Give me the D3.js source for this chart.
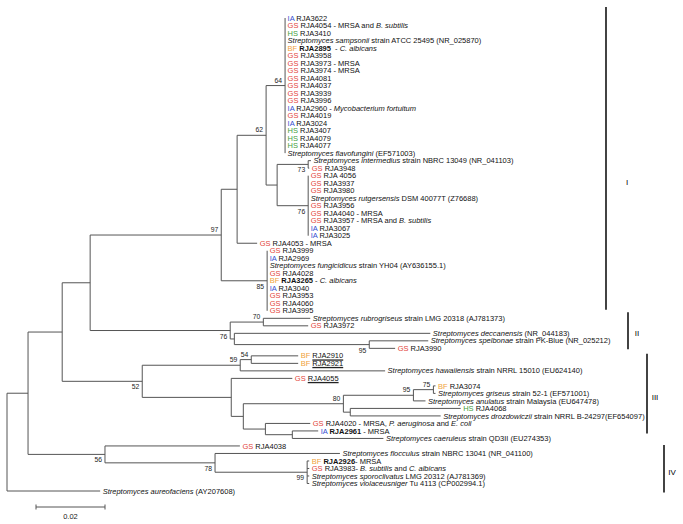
<!DOCTYPE html>
<html><head><meta charset="utf-8">
<script src="https://cdn.jsdelivr.net/npm/d3@7"></script>
<style>body{margin:0;background:#fff}svg{display:block;font-family:"Liberation Sans",Arial,sans-serif}</style>
</head><body><svg id="c" width="683" height="524"></svg>
<script>
// internal nodes: id, parent, branch length, bootstrap support
const internalNodes = [
 ["R",null,0,""],["A","R",0.0061,""],["B","A",0.0099,""],["C","B",0.0081,""],
 ["N97","C",0.0380,"97"],["Nx","N97",0.0046,""],["N62","Nx",0.0084,"62"],["N64","N62",0.0055,"64"],
 ["Ny","N62",0.0032,""],["N73","Ny",0.0090,"73"],["N76b","Ny",0.0090,"76"],["N85","N97",0.0133,"85"],
 ["N76","C",0.0406,"76"],["N70","N76",0.0096,"70"],["Nz","N76",0.0012,""],["N95b","Nz",0.0391,"95"],
 ["N52","B",0.0232,"52"],["N59","N52",0.0284,"59"],["N54","N59",0.0032,"54"],["N231","N52",0.0258,""],
 ["N243","N231",0.0035,""],["N80","N243",0.0290,"80"],["N95","N80",0.0203,"95"],["N75","N95",0.0058,"75"],
 ["Nhd","N80",0.0020,""],["Nlow","N243",0.0064,""],["Nb","Nlow",0.0078,""],
 ["N56","A",0.0223,"56"],["N78","N56",0.0319,"78"],["N99","N78",0.0267,"99"]
];
// support labels drawn below the branch
const supportBelow = ["N73","N76b","N85","N76","N95b","N52","N56","N78","N99"];
// leaves: label, parent, branch length, source tag, activity note (*...* = italic)
const leaves = [
 ["RJA3622","N64",0,"IA",""],
 ["RJA4054","N64",0,"GS"," - MRSA and *B. subtilis*"],
 ["RJA3410","N64",0,"HS",""],
 ["*Streptomyces sampsonii* strain ATCC 25495 (NR_025870)","N64",0,"",""],
 ["RJA2895","N64",0,"BF","  - *C. albicans*"],
 ["RJA3958","N64",0,"GS",""],
 ["RJA3973","N64",0,"GS"," - MRSA"],
 ["RJA3974","N64",0,"GS"," - MRSA"],
 ["RJA4081","N64",0,"GS",""],
 ["RJA4037","N64",0,"GS",""],
 ["RJA3939","N64",0,"GS",""],
 ["RJA3996","N64",0,"GS",""],
 ["RJA2960","N64",0,"IA"," - *Mycobacterium fortuitum*"],
 ["RJA4019","N64",0,"GS",""],
 ["RJA3024","N64",0,"IA",""],
 ["RJA3407","N64",0,"HS",""],
 ["RJA4079","N64",0,"HS",""],
 ["RJA4077","N64",0,"HS",""],
 ["*Streptomyces flavofungini* (EF571003)","N64",0,"",""],
 ["*Streptomyces intermedius* strain NBRC 13049 (NR_041103)","N73",0.0008,"",""],
 ["RJA3948","N73",0.0003,"GS",""],
 ["RJA 4056","N76b",0,"GS",""],
 ["RJA3937","N76b",0,"GS",""],
 ["RJA3980","N76b",0,"GS",""],
 ["*Streptomyces rutgersensis* DSM 40077T (Z76688)","N76b",0,"",""],
 ["RJA3956","N76b",0,"GS",""],
 ["RJA4040","N76b",0,"GS"," - MRSA"],
 ["RJA3957","N76b",0,"GS"," - MRSA and *B. subtilis*"],
 ["RJA3067","N76b",0,"IA",""],
 ["RJA3025","N76b",0,"IA",""],
 ["RJA4053","Nx",0.0058,"GS"," - MRSA"],
 ["RJA3999","N85",0,"GS",""],
 ["RJA2969","N85",0,"IA",""],
 ["*Streptomyces fungicidicus* strain YH04 (AY636155.1)","N85",0,"",""],
 ["RJA4028","N85",0,"GS",""],
 ["RJA3265","N85",0,"BF"," - *C. albicans*"],
 ["RJA3040","N85",0,"IA",""],
 ["RJA3953","N85",0,"GS",""],
 ["RJA4060","N85",0,"GS",""],
 ["RJA3995","N85",0,"GS",""],
 ["*Streptomyces rubrogriseus* strain LMG 20318 (AJ781373)","N70",0.0136,"",""],
 ["RJA3972","N70",0.0130,"GS",""],
 ["*Streptomyces deccanensis* (NR_044183)","Nz",0.0568,"",""],
 ["*Streptomyces spelbonae* strain PK-Blue (NR_025212)","N95b",0.0171,"",""],
 ["RJA3990","N95b",0.0075,"GS",""],
 ["RJA2910","N54",0.0136,"BF",""],
 ["RJA2921","N54",0.0136,"BF",""],
 ["*Streptomyces hawaiiensis* strain NRRL 15010 (EU624140)","N59",0.0420,"",""],
 ["RJA4055","N231",0.0177,"GS",""],
 ["RJA3074","N75",0.0006,"BF",""],
 ["*Streptomyces griseus* strain 52-1 (EF571001)","N75",0.0006,"",""],
 ["*Streptomyces anulatus* strain Malaysia (EU647478)","N95",0.0035,"",""],
 ["RJA4068","Nhd",0.0320,"HS",""],
 ["*Streptomyces drozdowiczii* strain NRRL B-24297(EF654097)","Nhd",0.0262,"",""],
 ["RJA4020","Nlow",0.0130,"GS"," - MRSA, *P. aeruginosa* and *E. coli*"],
 ["RJA2961","Nb",0.0075,"IA"," - MRSA"],
 ["*Streptomyces caeruleus* strain QD3II (EU274353)","Nb",0.0264,"",""],
 ["RJA4038","N56",0.0391,"GS",""],
 ["*Streptomyces flocculus* strain NBRC 13041 (NR_041100)","N78",0.0362,"",""],
 ["RJA2926","N99",0.0006,"BF","- MRSA"],
 ["RJA3983","N99",0.0006,"GS","- *B. subtilis* and *C. albicans*"],
 ["*Streptomyces sporoclivatus* LMG 20312 (AJ781369)","N99",0.0006,"",""],
 ["*Streptomyces violaceusniger* Tu 4113 (CP002994.1)","N99",0.0006,"",""],
 ["*Streptomyces aureofaciens* (AY207608)","R",0.0270,"",""]
];
const boldIsolates = ["RJA2895","RJA3265","RJA2961","RJA2926"];
const underlinedIsolates = ["RJA2910","RJA2921","RJA4055"];
const tagColors = {GS:"#e3453b", IA:"#3550cf", HS:"#45a040", BF:"#f0a13a"};
const cladeNames = ["I","II","III","IV"];
const cladeFirst = ["RJA3622","*Streptomyces rubrogriseus* strain LMG 20318 (AJ781373)","RJA2910","RJA4038"];
const cladeLast = ["RJA3995","RJA3990","*Streptomyces caeruleus* strain QD3II (EU274353)","*Streptomyces violaceusniger* Tu 4113 (CP002994.1)"];
const scaleBarValue = 0.02;

// ---- layout ----
const svg = d3.select("#c");
const x = d3.scaleLinear().domain([0, 0.02]).range([7, 76]);
const leafOrder = leaves.map(d => d[0]);
const y = d3.scalePoint().domain(leafOrder).range([18, 491]);

const table = internalNodes.map(d => ({id:d[0], parent:d[1], len:d[2], support:d[3], leaf:false}))
  .concat(leaves.map(d => ({id:d[0], parent:d[1], len:d[2], tag:d[3], note:d[4], leaf:true})));
const root = d3.stratify().id(d => d.id).parentId(d => d.parent)(table);
const minIdx = n => n.data.leaf ? leafOrder.indexOf(n.id) : d3.min(n.children, minIdx);
root.eachAfter(n => { n.order = minIdx(n); });
root.sort((a,b) => a.order - b.order);
root.eachBefore(n => { n.depthLen = n.parent ? n.parent.depthLen + n.data.len : 0; n.px = x(n.depthLen); });
root.eachAfter(n => {
  if (n.data.leaf) n.py = y(n.id);
  else n.py = (n.children[0].py + n.children[n.children.length-1].py) / 2;
});

const lineColor = "#555";
const g = svg.append("g");
g.selectAll("line.h").data(root.descendants().filter(n => n.parent)).enter().append("line")
  .attr("x1", n => n.parent.px).attr("x2", n => n.px)
  .attr("y1", n => n.py).attr("y2", n => n.py)
  .attr("stroke", lineColor).attr("stroke-width", 1);
g.selectAll("line.v").data(root.descendants().filter(n => n.children)).enter().append("line")
  .attr("x1", n => n.px).attr("x2", n => n.px)
  .attr("y1", n => n.children[0].py).attr("y2", n => n.children[n.children.length-1].py)
  .attr("stroke", lineColor).attr("stroke-width", 1);

g.selectAll("text.s").data(root.descendants().filter(n => !n.data.leaf && n.data.support)).enter().append("text")
  .attr("x", n => n.px - 3)
  .attr("y", n => supportBelow.includes(n.id) ? n.py + 8 : n.py - 3)
  .attr("text-anchor","end").attr("font-size", 6.8).attr("fill","#222")
  .text(n => n.data.support);

function addRich(textSel, str) {
  str.split("*").forEach((part, i) => {
    if (!part) return;
    const t = textSel.append("tspan").text(part);
    if (i % 2 === 1) t.attr("font-style","italic");
  });
}
root.leaves().forEach(n => {
  const t = g.append("text").attr("x", n.px + 2.5).attr("y", n.py).attr("dy","0.35em")
    .attr("font-size", 7.5).attr("fill","#111").attr("xml:space","preserve");
  if (n.data.tag) {
    t.append("tspan").attr("fill", tagColors[n.data.tag]).text(n.data.tag + " ");
    const nm = t.append("tspan").text(n.id);
    if (boldIsolates.includes(n.id)) nm.attr("font-weight","bold");
    if (n.data.note) addRich(t, n.data.note);
    if (underlinedIsolates.includes(n.id)) {
      const bb = nm.node().getBBox();
      g.append("line").attr("x1", bb.x).attr("x2", bb.x + bb.width)
        .attr("y1", n.py + 4.2).attr("y2", n.py + 4.2).attr("stroke","#222").attr("stroke-width",1.3);
    }
  } else {
    addRich(t, n.id);
  }
});

// scale bar
const sbX0 = 36, sbY = 507, sbLen = x(scaleBarValue) - x(0);
g.append("line").attr("x1", sbX0).attr("x2", sbX0 + sbLen).attr("y1", sbY).attr("y2", sbY).attr("stroke", lineColor);
[sbX0, sbX0 + sbLen].forEach(v => g.append("line").attr("x1", v).attr("x2", v).attr("y1", sbY-2.5).attr("y2", sbY+2.5).attr("stroke", lineColor));
g.append("text").attr("x", sbX0 + sbLen/2).attr("y", sbY + 12).attr("text-anchor","middle").attr("font-size",7.5).attr("fill","#222").text(scaleBarValue.toFixed(2));

// clade bars
const cladeBarX = [606, 628, 647, 664];
const cladePadTop = [11, 6, 2, 1];
const cladePadBottom = [-1, 1, -5, 9];
const cladeLabelDx = [21, 9, 8, 8];
const cladeLabelDy = [24, 2, 4, 3];
const cg = svg.append("g").attr("opacity", 0.99);
cladeNames.forEach((c, i) => {
  const y0 = y(cladeFirst[i]) - cladePadTop[i], y1 = y(cladeLast[i]) + cladePadBottom[i];
  cg.append("line").attr("x1", cladeBarX[i]).attr("x2", cladeBarX[i]).attr("y1", y0).attr("y2", y1)
    .attr("stroke","#111").attr("stroke-width", 1.6);
  cg.append("text").attr("x", cladeBarX[i] + cladeLabelDx[i]).attr("y", (y0+y1)/2 + cladeLabelDy[i]).attr("dy","0.35em")
    .attr("text-anchor","middle").attr("font-size", 8).attr("fill","#000").text(c);
});
</script></body></html>
